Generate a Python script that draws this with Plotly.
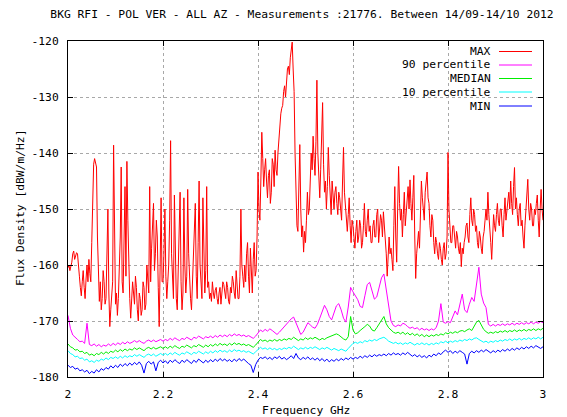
import numpy as np
import plotly.graph_objects as go

# ---------------- data ----------------
SERIES_NAMES = ["MAX", "90 percentile", "MEDIAN", "10 percentile", "MIN"]
SERIES_COLORS = ["#ff0000", "#ff00ff", "#00ee00", "#00ffff", "#0000ff"]

# MAX: 2.000 .. 3.000 GHz, step 0.002 GHz (one row = 0.1 GHz)
MAX_VALUES = [
    -160.5, -160, -161, -160.2, -159.5, -158, -157.5, -159, -158.5, -157.8, -158, -161, -162, -164, -165.5, -163, -161, -164, -166, -162.5, -160, -163, -159, -161.5, -163,
    -156, -150, -142, -141, -141.8, -142.5, -155, -164, -166.5, -163, -168, -166, -161, -163, -167, -166, -158, -150, -165, -171, -168, -166, -163, -138.6, -160,
    -167, -165, -169, -166, -162, -155, -142.5, -163, -165, -158, -146, -162, -141.5, -152, -160, -166, -169.5, -167, -163, -165, -167, -162, -164, -168, -170,
    -165, -166, -169, -168, -163, -164, -168, -167, -160, -162, -165, -146, -163, -157, -152, -149, -161, -158, -152, -155, -164, -171, -160, -148, -163,
    -163, -158, -150, -162, -166, -163, -160, -152, -137.8, -158, -164, -166, -147.5, -160, -166, -168, -160, -155, -147, -163, -168, -165, -148, -160, -165,
    -162, -146.5, -158, -163, -166, -168, -164, -158, -153, -149, -162, -166, -156, -145, -160, -163, -166, -148, -159, -165, -161, -146, -164, -163, -166,
    -165, -166.5, -163, -165, -166, -164.5, -164, -166, -167, -165, -164, -167, -165.5, -163, -163.5, -165, -166, -163, -164, -166.5, -167, -164, -165, -162, -163,
    -165, -166, -161, -164, -166, -166, -162, -150, -160, -162, -164, -160, -163, -158, -156, -162, -165, -157, -160, -165, -159, -156, -162, -161, -155,
    -143.4, -150, -152, -145, -136.3, -141, -146, -143, -141, -145, -148, -144, -143, -149, -147, -141, -142, -146, -139.5, -143, -144, -140, -137, -134, -133,
    -132, -131.5, -129, -128, -130, -127.5, -125, -124.5, -126, -123, -122, -120.2, -125, -129, -140, -149, -153, -154, -146, -138.5, -150, -155, -153, -157.7, -154,
    -156, -152, -147, -151, -150, -145, -140, -143, -137, -141, -144, -138, -127, -140, -145, -148, -143, -138, -131, -142, -147, -145, -150, -146, -139,
    -144, -148, -151, -145, -149, -150, -147, -146, -149, -151, -147, -148, -150, -152, -145, -139, -147, -150, -153, -154, -151, -148, -153, -156, -152,
    -153, -155, -157, -154, -152, -156, -155, -152, -153, -157, -156, -153, -149, -154, -155, -152, -150, -154, -153, -156, -156, -153, -152, -155, -155,
    -151, -150, -156, -154, -151, -152, -155, -150.5, -153, -155, -158, -162, -157, -155, -158, -157, -159, -161, -153, -146, -155, -159.5, -150, -142.4, -149,
    -152, -150, -155, -151, -147, -153, -151, -148, -146, -150, -144.8, -149, -152, -148, -144, -155, -162.4, -158, -155, -154, -157, -151, -145, -148, -150,
    -152, -147, -145, -143.4, -148, -149, -153, -155, -151, -152, -156, -158, -155, -156, -158, -159, -156, -157, -159, -160, -157, -156, -159, -158, -155,
    -139.9, -150, -154, -156, -156, -153, -153, -155, -157, -154, -155, -157, -158, -156, -160.3, -157, -158, -156, -155, -153, -152.5, -155, -156, -151, -148,
    -152, -153, -150, -151, -154, -153, -156, -157, -154, -155, -157, -158, -155, -154, -152, -150, -152, -147, -151, -153, -156, -159, -154, -151, -153,
    -154, -151, -149, -152, -153, -150, -150, -153, -155, -151, -148, -152, -150, -149, -147, -150, -145, -149, -151, -146, -142.6, -150, -148, -151, -153,
    -150, -149, -153, -152, -155, -157, -153, -150, -148, -144.7, -150, -152, -149, -150, -153, -153, -150, -151, -149, -147.5, -152, -155, -150, -146.5, -150,
    -152,
]

# lower curves: 2.000 .. 3.000 GHz, step 0.005 GHz
P90_VALUES = [
    -169.0, -171.3, -172.5, -173.0, -173.3, -173.7, -173.6, -174.0, -170.4, -174.2,
    -174.4, -174.1, -174.5, -174.2, -174.6, -174.3, -174.5, -174.1, -174.4, -174.0,
    -174.3, -173.9, -174.2, -173.8, -174.1, -173.7, -174.0, -173.8, -173.5, -173.8,
    -173.5, -173.8, -174.0, -173.6, -173.4, -173.7, -173.4, -173.7, -173.5, -173.3,
    -173.6, -173.3, -173.5, -173.1, -173.4, -173.0, -173.3, -173.5, -173.1, -173.3,
    -172.9, -173.2, -173.4, -172.9, -173.1, -172.7, -173.0, -173.2, -172.8, -173.0,
    -172.7, -173.0, -172.6, -172.9, -172.5, -172.8, -172.5, -172.8, -172.4, -172.7,
    -172.3, -172.6, -172.4, -172.7, -172.5, -172.8, -172.6, -172.9, -173.1, -172.7,
    -172.2, -171.6, -171.9, -171.5, -171.8, -171.4, -171.7, -172.1, -172.4, -172.0,
    -171.5, -171.0, -170.6, -170.0, -169.6, -169.3, -170.4, -171.5, -172.4, -172.0,
    -171.2, -170.3, -170.7, -171.1, -171.3, -170.6, -169.5, -168.3, -167.2, -168.0,
    -169.2, -169.8, -168.6, -167.3, -166.9, -168.0, -169.5, -170.2, -167.5, -164.0,
    -164.8, -165.6, -166.2, -167.4, -167.6, -165.5, -163.5, -163.1, -164.5, -166.1,
    -165.7, -164.0, -162.3, -161.6, -164.5, -167.5, -170.0, -170.8, -171.0, -170.7,
    -170.9, -170.4, -170.6, -171.0, -171.3, -171.1, -171.4, -171.2, -171.6, -171.3,
    -171.6, -171.4, -171.7, -171.4, -171.6, -171.2, -170.0, -166.9, -170.2, -170.4,
    -170.1, -170.3, -169.4, -168.2, -168.9, -166.8, -165.2, -168.0, -168.5, -167.0,
    -165.8, -166.5, -163.0, -160.4, -165.2, -166.8, -167.6, -170.6, -170.9, -170.6,
    -170.9, -170.6, -170.8, -170.5, -170.8, -170.5, -170.7, -170.4, -170.7, -170.4,
    -170.6, -170.3, -170.6, -170.3, -170.5, -170.2, -170.5, -170.2, -170.4, -170.1,
    -170.3,
]

MEDIAN_VALUES = [
    -174.1, -174.6, -174.8, -175.2, -175.1, -175.5, -175.4, -175.8, -175.6, -176.1,
    -175.9, -176.2, -175.8, -176.0, -175.6, -175.9, -175.5, -175.8, -175.4, -175.6,
    -175.2, -175.5, -175.1, -175.4, -175.0, -175.3, -175.0, -175.2, -174.8, -175.1,
    -174.8, -175.1, -175.3, -174.9, -174.7, -175.0, -174.7, -175.0, -174.8, -174.6,
    -174.9, -174.6, -174.9, -174.5, -174.8, -174.4, -174.7, -174.9, -174.5, -174.7,
    -174.3, -174.6, -174.8, -174.4, -174.6, -174.2, -174.5, -174.7, -174.3, -174.6,
    -174.2, -174.5, -174.1, -174.4, -174.0, -174.3, -174.1, -174.4, -174.0, -174.3,
    -173.9, -174.2, -174.0, -174.3, -174.1, -174.4, -174.2, -174.5, -174.7, -174.3,
    -173.8, -173.3, -173.6, -173.4, -173.7, -173.4, -173.6, -173.3, -173.6, -173.3,
    -173.5, -173.2, -173.4, -173.1, -173.3, -172.9, -173.2, -173.5, -173.2, -173.4,
    -173.0, -173.3, -173.0, -173.2, -172.9, -173.2, -173.4, -173.1, -173.3, -173.0,
    -172.8, -172.6, -172.5, -172.3, -172.5, -172.9, -173.2, -173.4, -172.8, -169.2,
    -171.6, -172.3, -172.1, -171.7, -171.4, -171.0, -170.6, -170.9, -171.6, -171.8,
    -171.2, -170.5, -169.7, -169.2, -170.5, -171.2, -171.6, -172.0, -172.2, -172.0,
    -172.3, -172.0, -172.4, -172.1, -172.5, -172.2, -172.6, -172.3, -172.7, -172.4,
    -172.8, -172.5, -172.8, -172.5, -172.7, -172.4, -172.6, -172.3, -172.5, -172.1,
    -172.3, -172.0, -172.2, -171.9, -172.1, -171.8, -171.7, -171.9, -171.6, -171.4,
    -171.7, -170.9, -170.2, -169.9, -170.8, -171.5, -171.9, -172.2, -172.0, -172.2,
    -171.9, -172.1, -171.8, -172.0, -171.7, -172.0, -171.7, -171.9, -171.6, -171.9,
    -171.6, -171.8, -171.5, -171.8, -171.5, -171.7, -171.4, -171.7, -171.4, -171.6,
    -171.3,
]

P10_VALUES = [
    -175.3, -175.8, -176.0, -176.4, -176.3, -176.7, -176.6, -177.0, -176.8, -177.3,
    -177.1, -177.4, -177.0, -177.2, -176.8, -177.0, -176.6, -176.9, -176.5, -176.7,
    -176.4, -176.7, -176.3, -176.6, -176.2, -176.5, -176.2, -176.4, -176.0, -176.3,
    -176.0, -176.3, -176.5, -176.1, -175.9, -176.2, -175.9, -176.3, -176.0, -175.8,
    -176.1, -175.8, -176.1, -175.7, -176.0, -175.6, -175.9, -176.1, -175.7, -175.9,
    -175.5, -175.8, -176.0, -175.6, -175.8, -175.4, -175.7, -175.9, -175.5, -175.8,
    -175.4, -175.7, -175.3, -175.6, -175.2, -175.5, -175.3, -175.6, -175.2, -175.5,
    -175.1, -175.4, -175.2, -175.5, -175.3, -175.6, -175.4, -175.7, -175.9, -175.5,
    -175.0, -174.7, -175.0, -174.8, -175.1, -174.8, -175.1, -174.9, -175.2, -174.9,
    -175.1, -174.8, -175.0, -174.7, -174.9, -174.5, -174.8, -175.1, -174.8, -175.0,
    -174.7, -175.0, -174.7, -174.9, -174.6, -174.9, -175.1, -174.8, -175.0, -174.7,
    -175.0, -175.2, -174.9, -175.1, -175.3, -175.0, -175.2, -175.4, -174.9, -174.4,
    -174.0, -173.8, -174.0, -173.7, -173.9, -173.5, -173.7, -173.4, -173.6, -173.3,
    -173.5, -173.2, -173.0, -172.9, -173.2, -173.6, -173.8, -174.0, -173.8, -174.1,
    -173.9, -174.2, -173.9, -174.1, -173.8, -174.1, -174.3, -174.0, -174.2, -173.9,
    -174.2, -174.0, -174.3, -174.0, -174.2, -173.9, -174.1, -173.7, -173.9, -173.6,
    -173.9, -173.6, -173.8, -173.5, -173.7, -173.4, -173.6, -173.3, -173.5, -173.2,
    -173.4, -173.1, -173.0, -173.3, -173.5, -173.8, -173.6, -173.9, -173.6, -173.8,
    -173.5, -173.7, -173.4, -173.6, -173.3, -173.5, -173.2, -173.5, -173.2, -173.4,
    -173.1, -173.4, -173.1, -173.3, -173.0, -173.3, -173.0, -173.2, -172.9, -173.2,
    -172.9,
]

MIN_VALUES = [
    -177.9, -178.3, -178.1, -178.6, -178.4, -178.9, -178.7, -179.1, -178.8, -179.4,
    -179.0, -179.3, -178.7, -179.1, -178.5, -178.8, -178.3, -178.6, -178.0, -178.4,
    -177.9, -178.3, -177.7, -178.1, -177.6, -178.0, -177.5, -177.9, -177.4, -177.8,
    -177.3, -177.9, -179.3, -177.6, -177.2, -177.7, -177.3, -178.9, -177.4, -177.0,
    -177.5, -177.1, -177.6, -177.0, -177.4, -176.9, -177.3, -177.6, -177.0, -177.4,
    -176.9, -177.3, -177.6, -177.0, -177.4, -176.8, -177.2, -177.5, -177.0, -177.4,
    -176.9, -177.3, -176.8, -177.2, -176.7, -177.1, -176.8, -177.2, -176.9, -177.3,
    -176.8, -177.2, -176.7, -177.1, -176.8, -177.3, -177.6, -177.9, -179.2, -177.8,
    -177.0, -176.5, -176.7, -176.4, -176.8, -176.5, -176.9, -176.4, -176.7, -176.3,
    -176.8, -176.5, -176.9, -176.6, -176.2, -176.7, -175.8, -176.6, -176.9, -176.5,
    -176.8, -176.4, -176.9, -176.6, -177.0, -176.6, -177.1, -176.7, -177.2, -176.8,
    -177.3, -176.9, -177.2, -176.8, -177.1, -176.7, -177.0, -176.6, -176.9, -176.5,
    -176.8, -176.5, -176.7, -176.3, -176.6, -176.2, -176.5, -176.1, -176.4, -176.0,
    -176.3, -176.0, -176.2, -175.9, -176.2, -175.8, -176.1, -175.7, -176.0, -175.8,
    -176.1, -175.7, -176.0, -175.6, -176.0, -176.3, -176.0, -176.4, -176.1, -176.5,
    -176.2, -176.6, -176.1, -176.4, -175.9, -176.2, -175.7, -176.0, -175.5, -175.2,
    -175.6, -175.3, -175.8, -175.4, -175.7, -175.3, -175.6, -175.9, -177.7, -175.8,
    -175.4, -175.7, -175.3, -175.6, -175.2, -175.5, -175.1, -175.4, -175.7, -175.3,
    -175.6, -175.2, -175.5, -175.1, -175.4, -175.0, -175.3, -174.9, -175.2, -174.8,
    -175.1, -174.7, -175.0, -174.6, -174.9, -174.5, -174.8, -174.4, -174.7, -174.9,
    -174.6,
]

X_TICKS = [2.0, 2.2, 2.4, 2.6, 2.8, 3.0]
X_TICK_TEXT = ["2", "2.2", "2.4", "2.6", "2.8", "3"]
Y_TICKS = [-180, -170, -160, -150, -140, -130, -120]
Y_TICK_TEXT = ["-180", "-170", "-160", "-150", "-140", "-130", "-120"]

TITLE = "BKG RFI - POL VER - ALL AZ - Measurements :21776. Between 14/09-14/10 2012"
X_TITLE = "Frequency GHz"
Y_TITLE = "Flux Density [dBW/m/Hz]"

# ---------------- figure ----------------
FONT = "DejaVu Sans Mono"
FS = 11.3

series = [MAX_VALUES, P90_VALUES, MEDIAN_VALUES, P10_VALUES, MIN_VALUES]

fig = go.Figure()
for name, color, vals in zip(SERIES_NAMES, SERIES_COLORS, series):
    fx = np.linspace(2.0, 3.0, len(vals))
    fig.add_trace(go.Scatter(x=fx, y=vals, mode="lines", name=name,
                             line=dict(color=color, width=1), showlegend=False,
                             hoverinfo="skip"))

L, R, T, B = 68, 24, 41, 40
W, H = 567, 417
pw, ph = W - L - R, H - T - B


def px_x(px):
    return (px - L) / pw


def px_y(py):
    return (H - B - py) / ph


axis_common = dict(
    showline=True, linecolor="black", linewidth=1, mirror="ticks",
    ticks="inside", ticklen=5, tickcolor="black", tickwidth=1,
    showgrid=True, gridcolor="#a8a8a8", griddash="dot", gridwidth=1,
    zeroline=False, tickfont=dict(family=FONT, size=FS, color="black"),
)

fig.update_layout(
    width=W, height=H,
    margin=dict(l=L, r=R, t=T, b=B),
    paper_bgcolor="white", plot_bgcolor="white",
    font=dict(family=FONT, size=FS, color="black"),
    xaxis=dict(range=[2, 3], tickvals=X_TICKS, ticktext=X_TICK_TEXT,
               ticklabelstandoff=6, **axis_common),
    yaxis=dict(range=[-180, -120], tickvals=Y_TICKS, ticktext=Y_TICK_TEXT,
               ticklabelstandoff=6, **axis_common),
    title=dict(text=TITLE, x=302 / W, xref="container", xanchor="center",
               y=1 - 14 / H, yref="container", yanchor="middle",
               font=dict(family=FONT, size=FS, color="black")),
    showlegend=False,
)

# axis titles
fig.add_annotation(text=X_TITLE, xref="paper", yref="paper", x=0.5, y=px_y(410),
                   xanchor="center", yanchor="middle", showarrow=False,
                   font=dict(family=FONT, size=FS, color="black"))
fig.add_annotation(text=Y_TITLE, xref="paper", yref="paper", x=px_x(20), y=px_y(208),
                   xanchor="center", yanchor="middle", showarrow=False, textangle=-90,
                   font=dict(family=FONT, size=FS, color="black"))

# key (gnuplot style: text right-aligned, sample on the right)
fig.add_shape(type="rect", xref="paper", yref="paper",
              x0=px_x(398), x1=px_x(541), y0=px_y(113), y1=px_y(42),
              fillcolor="white", line=dict(width=0), layer="between")
key_rows = [51.5, 65, 78.5, 92, 106]
for name, color, yy in zip(SERIES_NAMES, SERIES_COLORS, key_rows):
    fig.add_annotation(text=name, xref="paper", yref="paper", x=px_x(493), y=px_y(yy),
                       xanchor="right", yanchor="middle", showarrow=False,
                       font=dict(family=FONT, size=FS, color="black"))
    fig.add_shape(type="line", xref="paper", yref="paper",
                  x0=px_x(499), x1=px_x(532), y0=px_y(yy), y1=px_y(yy),
                  line=dict(color=color, width=1), layer="above")

fig.write_html("out.html", config={"displayModeBar": False},
               post_script="document.body.style.margin='0';")
